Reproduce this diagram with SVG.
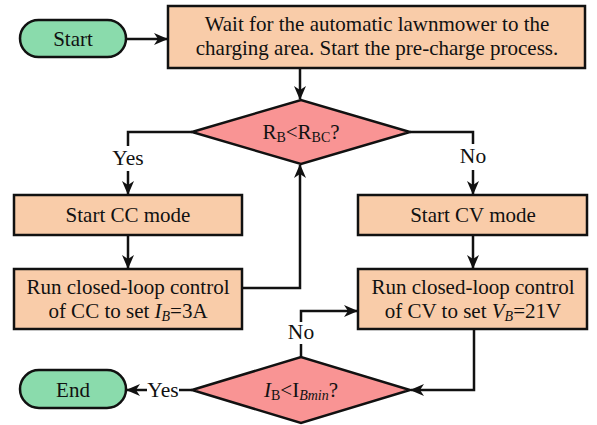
<svg xmlns="http://www.w3.org/2000/svg" width="597" height="425" viewBox="0 0 597 425">
<defs>
<style>
.box{fill:#F9CCA9;stroke:#111;stroke-width:2.5}
.dia{fill:#F99494;stroke:#111;stroke-width:2.5}
.term{fill:#8ADBAC;stroke:#111;stroke-width:2.5}
text{font-family:'Liberation Serif','Times New Roman',serif;fill:#111;text-anchor:middle}
.t{font-size:21px}
.lbl{font-size:21.5px}
.c{fill:none;stroke:#111;stroke-width:2.5}
</style>
<marker id="ah" markerWidth="14" markerHeight="12" viewBox="0 0 14 12" refX="13" refY="6" orient="auto" markerUnits="userSpaceOnUse">
<path d="M0,0 L14,6 L0,12 L4,6 Z" fill="#111"/>
</marker>
</defs>
<rect width="597" height="425" fill="#fff"/>
<g id="connectors">
<path class="c" d="M126,39 H167" marker-end="url(#ah)"/>
<path class="c" d="M300,68 V99" marker-end="url(#ah)"/>
<path class="c" d="M192,132 H128 V146"/>
<path class="c" d="M128,171 V194" marker-end="url(#ah)"/>
<path class="c" d="M410,132 H473 V144"/>
<path class="c" d="M473,170 V194" marker-end="url(#ah)"/>
<path class="c" d="M128,236 V268" marker-end="url(#ah)"/>
<path class="c" d="M473,236 V268" marker-end="url(#ah)"/>
<path class="c" d="M242,288 H300 V165" marker-end="url(#ah)"/>
<path class="c" d="M474,329 V390 H411" marker-end="url(#ah)"/>
<path class="c" d="M301,357 V344"/>
<path class="c" d="M301,322 V311 H357" marker-end="url(#ah)"/>
<path class="c" d="M192,390 H179"/>
<path class="c" d="M147,390 H127" marker-end="url(#ah)"/>
<text class="lbl" x="128" y="165">Yes</text>
<text class="lbl" x="473" y="163">No</text>
<text class="lbl" x="301" y="339">No</text>
<text class="lbl" x="163" y="397">Yes</text>
</g>
<g id="start">
<rect class="term" x="20" y="20" width="106" height="37" rx="18.5"/>
<text class="t" x="73" y="46">Start</text>
</g>
<g id="wait">
<rect class="box" x="168" y="6" width="417" height="62"/>
<text class="t" x="377" y="31">Wait for the automatic lawnmower to the</text>
<text class="t" x="377" y="55">charging area. Start the pre-charge process.</text>
</g>
<g id="check-rb">
<polygon class="dia" points="192,132 301,100 410,132 301,164"/>
<text class="t" x="301" y="139">R<tspan font-size="14" dy="3">B</tspan><tspan dy="-3">&lt;R</tspan><tspan font-size="14" dy="3">BC</tspan><tspan dy="-3">?</tspan></text>
</g>
<g id="start-cc">
<rect class="box" x="14" y="195" width="228" height="40"/>
<text class="t" x="128" y="222">Start CC mode</text>
</g>
<g id="run-cc">
<rect class="box" x="14" y="269" width="228" height="60"/>
<text class="t" x="128" y="294">Run closed-loop control</text>
<text class="t" x="128" y="318">of CC to set <tspan font-style="italic">I</tspan><tspan font-style="italic" font-size="14" dy="3">B</tspan><tspan dy="-3">=3A</tspan></text>
</g>
<g id="start-cv">
<rect class="box" x="358" y="195" width="229" height="40"/>
<text class="t" x="473" y="222">Start CV mode</text>
</g>
<g id="run-cv">
<rect class="box" x="358" y="269" width="229" height="60"/>
<text class="t" x="473" y="294">Run closed-loop control</text>
<text class="t" x="473" y="318">of CV to set <tspan font-style="italic">V</tspan><tspan font-style="italic" font-size="14" dy="3">B</tspan><tspan dy="-3">=21V</tspan></text>
</g>
<g id="check-ib">
<polygon class="dia" points="192,390 301,357 410,390 301,423"/>
<text class="t" x="301" y="397"><tspan font-style="italic">I</tspan><tspan font-size="14" dy="3">B</tspan><tspan dy="-3">&lt;I</tspan><tspan font-style="italic" font-size="14" dy="3">Bmin</tspan><tspan dy="-3">?</tspan></text>
</g>
<g id="end">
<rect class="term" x="20" y="370" width="106" height="38" rx="19"/>
<text class="t" x="73" y="397">End</text>
</g>
</svg>
